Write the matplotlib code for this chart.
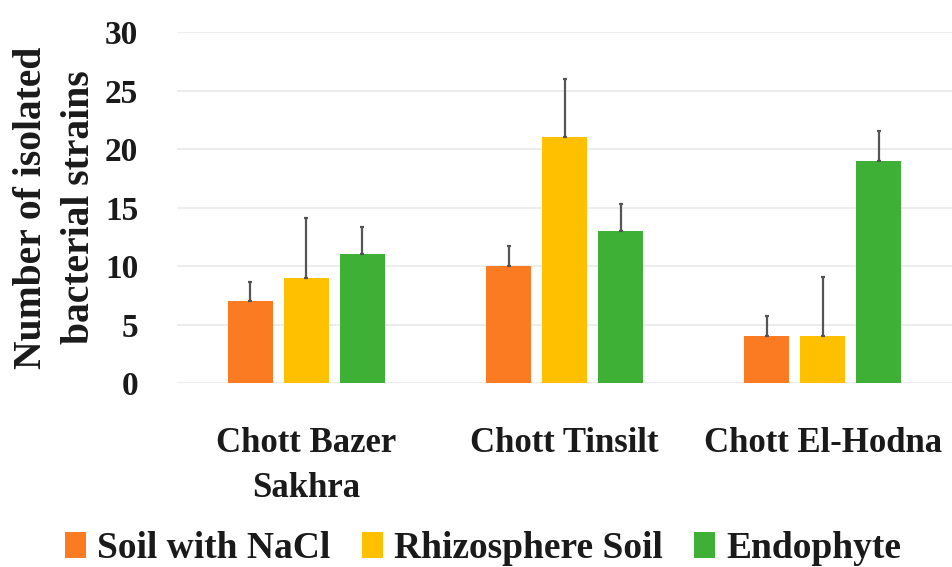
import matplotlib
matplotlib.use("Agg")
import matplotlib.pyplot as plt
from matplotlib.patches import Patch
import numpy as np

# Data
sites = ["Chott Bazer\nSakhra", "Chott Tinsilt", "Chott El-Hodna"]
series_names = ["Soil with NaCl", "Rhizosphere Soil", "Endophyte"]
soil_nacl = [7, 10, 4]
rhizosphere = [9, 21, 4]
endophyte = [11, 13, 19]
soil_nacl_err = [1.6, 1.7, 1.7]
rhizosphere_err = [5.1, 5.0, 5.1]
endophyte_err = [2.3, 2.3, 2.5]
y_ticks = [0, 5, 10, 15, 20, 25, 30]

colors = ["#FB7B22", "#FFC000", "#3DB035"]
serif = ["Liberation Serif", "DejaVu Serif"]

fig = plt.figure(figsize=(9.53, 5.67), dpi=100)
ax = fig.add_axes([0.186, 0.3245, 0.813, 0.619])

x = np.arange(len(sites))
step = 0.217
width = 0.174
values = [soil_nacl, rhizosphere, endophyte]
errors = [soil_nacl_err, rhizosphere_err, endophyte_err]

for k, (vals, errs, col) in enumerate(zip(values, errors, colors)):
    pos = x + (k - 1) * step
    ax.bar(pos, vals, width=width, color=col, zorder=2)
    ax.errorbar(pos, vals, yerr=[np.zeros(len(errs)), errs], fmt="none",
                ecolor="#555555", elinewidth=1.6, capsize=1.5, capthick=1.6,
                zorder=3)

ax.set_xlim(-0.5, 2.5)
ax.set_ylim(0, 30)
ax.set_yticks(y_ticks)
ax.yaxis.grid(True, color="#ECECEC", linewidth=1.3, zorder=0)
ax.set_axisbelow(True)
for s in ax.spines.values():
    s.set_visible(False)
ax.tick_params(axis="both", length=0)
ax.tick_params(axis="y", pad=28)
ax.tick_params(axis="x", pad=32)

ax.set_xticks(x)
ax.set_xticklabels(sites, fontfamily=serif, fontsize=25, fontweight="bold",
                   linespacing=1.45, color="#1a1a1a")
for lab in ax.get_yticklabels():
    lab.set_fontfamily(serif)
    lab.set_fontsize(24)
    lab.set_fontweight("bold")
    lab.set_color("#1a1a1a")

fig.text(0.0585, 0.634, "Number of isolated\nbacterial strains", rotation=90,
         ha="center", va="center", fontfamily=serif, fontsize=28.5,
         fontweight="bold", linespacing=1.4, color="#1a1a1a")

handles = [Patch(facecolor=c, edgecolor="none") for c in colors]
fig.legend(handles, series_names, loc="center", bbox_to_anchor=(0.507, 0.033),
           ncol=3, frameon=False, handlelength=0.55, handleheight=0.7,
           handletextpad=0.3, columnspacing=0.85,
           prop={"family": serif, "size": 27, "weight": "bold"})
for t in fig.legends[0].get_texts():
    t.set_color("#1a1a1a")

fig.savefig("out.png", dpi=100, facecolor="white")
